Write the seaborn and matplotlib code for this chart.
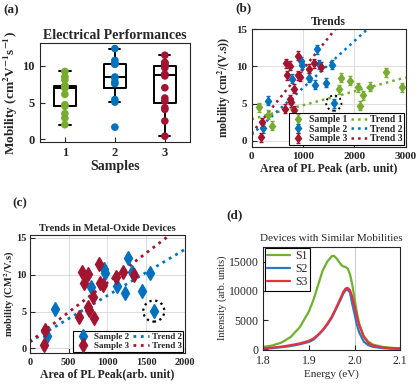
import numpy as np
import pandas as pd
import matplotlib
matplotlib.use('Agg')
import matplotlib.pyplot as plt
import seaborn as sns

# ---------------- data ----------------
GREEN, BLUE, RED = '#77AC30', '#0072BD', '#A2142F'

# area of PL peak / mobility (b) and (c)
s1_area = [143, 326, 392, 980, 1697, 1744, 1907, 2070, 2110, 2168, 2299, 2613, 2927]
s1_mob = [4.5, 3.5, 2.0, 2.9, 6.95, 8.5, 8.07, 7.2, 4.7, 6.1, 7.26, 9.2, 7.2]

s2_area = [224, 327, 791, 955, 972, 1127, 1234, 1264, 1320, 1445, 1557, 1600]
s2_mob = [1.67, 5.4, 8.36, 10.7, 10.2, 8.45, 7.55, 12.3, 10.3, 7.8, 10.2, 5.06]

s3_area = [181, 198, 641, 671, 697, 757, 748, 770, 821, 834, 899, 912, 942, 1113, 1208, 1350]
s3_mob = [0.45, 2.5, 4.3, 10.4, 8.8, 10.1, 5.6, 5.2, 7.0, 4.07, 11.4, 8.8, 8.6, 9.7, 10.4, 9.95]

mob_err = 0.6          # vertical error bar half-height
circled_idx = 11       # sample 2 device circled in (b) and (c)

# trend lines (intercept, slope)
trend_b = {'1': (2.9, 0.00187), '2': (0.8, 0.0063), '3': (1.0, 0.0086)}
trend_c = {'2': (0.9, 0.00625), '3': (0.9, 0.0080)}

# PL spectra (d)
energy = [1.80, 1.82, 1.84, 1.86, 1.88, 1.90, 1.91, 1.92, 1.93, 1.94, 1.95, 1.955,
          1.96, 1.97, 1.975, 1.98, 1.985, 1.99, 1.995, 2.00, 2.005, 2.01, 2.02,
          2.03, 2.04, 2.06, 2.08, 2.10]
spec_s1 = [400, 650, 1150, 2100, 3800, 6500, 8500, 11000, 13500, 15000, 15950, 16000,
           15600, 14500, 14200, 14100, 13800, 12800, 11000, 8600, 6300, 4400, 2300,
           1300, 800, 420, 250, 170]
spec_s2 = [100, 200, 350, 550, 850, 1250, 1650, 2400, 3200, 4200, 5400, 6200,
           7000, 8600, 9500, 10100, 10200, 9700, 7700, 6000, 4200, 2900, 1300,
           700, 420, 200, 100, 60]
spec_s3 = [150, 280, 450, 700, 1000, 1450, 1850, 2500, 3300, 4350, 5600, 6400,
           7200, 8900, 9800, 10400, 10500, 10100, 8900, 7300, 5600, 4100, 2100,
           1100, 650, 300, 170, 120]

# ---------------- style ----------------
sns.set_style('ticks')
plt.rcParams['font.family'] = ['Liberation Serif', 'DejaVu Serif']
plt.rcParams['mathtext.fontset'] = 'stix'
plt.rcParams['xtick.direction'] = 'in'
plt.rcParams['ytick.direction'] = 'in'
plt.rcParams['axes.linewidth'] = 0.8

fig = plt.figure(figsize=(4.2, 3.84), dpi=100)


def bold_ticks(ax, size):
    for lab in ax.get_xticklabels() + ax.get_yticklabels():
        lab.set_fontweight('bold')
        lab.set_fontsize(size)


# ---------------- (a) box plot ----------------
ax = fig.add_axes([0.095, 0.631, 0.357, 0.256])
df_a = pd.DataFrame({
    'sample': ['1'] * len(s1_mob) + ['2'] * len(s2_mob) + ['3'] * len(s3_mob),
    'mobility': s1_mob + s2_mob + s3_mob,
})
sns.stripplot(data=df_a, x='sample', y='mobility', hue='sample',
              palette={'1': GREEN, '2': BLUE, '3': RED}, jitter=False,
              size=5.5, legend=False, ax=ax)
sns.boxplot(data=df_a, x='sample', y='mobility', fill=False, color='k',
            linecolor='k', width=0.45, linewidth=1.4, whis=1.5,
            flierprops=dict(marker='+', markeredgecolor='red', markersize=3),
            ax=ax)
ax.set_xlim(-0.5, 2.5)
ax.set_ylim(-0.3, 13)
ax.set_yticks([0, 5, 10])
ax.set_title('Electrical Performances', fontsize=10, fontweight='bold', pad=3)
ax.set_xlabel('Samples', fontsize=10, fontweight='bold', labelpad=1)
ax.set_ylabel('Mobility (cm$^{\\mathbf{2}}$V$^{\\mathbf{-1}}$s$^{\\mathbf{-1}}$)',
              fontsize=9.5, fontweight='bold', labelpad=2)
bold_ticks(ax, 9)
for s in ax.spines.values():
    s.set_visible(True)

# ---------------- (b) trends ----------------
ax = fig.add_axes([0.599, 0.618, 0.367, 0.306])
handles = []
for area, mob, col, lab in [(s1_area, s1_mob, GREEN, 'Sample 1'),
                            (s2_area, s2_mob, BLUE, 'Sample 2'),
                            (s3_area, s3_mob, RED, 'Sample 3')]:
    h = ax.errorbar(area, mob, yerr=mob_err, fmt='d', color=col, ms=4.5,
                    elinewidth=1, capsize=1.2, label=lab, zorder=3)
    handles.append(h)
xs = np.array([0, 3000])
tl = []
for key, col in [('1', GREEN), ('2', BLUE), ('3', RED)]:
    b0, b1 = trend_b[key]
    sns.lineplot(x=xs, y=b0 + b1 * xs, color=col, linestyle=':', linewidth=1.8,
                 ax=ax, zorder=2)
    tl.append(ax.lines[-1])
ax.scatter([s2_area[circled_idx]], [s2_mob[circled_idx]], s=120, facecolors='none',
           edgecolors='k', linestyles=':', linewidths=1.4, zorder=4)
ax.set_xlim(0, 3000)
ax.set_ylim(-0.8, 15)
ax.set_xticks([0, 1000, 2000, 3000])
ax.set_yticks([0, 5, 10, 15])
ax.grid(True, color='#dddddd', linewidth=0.7)
ax.set_title('Trends', fontsize=8.5, fontweight='bold', pad=3)
ax.set_xlabel('Area of PL Peak (arb. unit)', fontsize=8.5, fontweight='bold', labelpad=1)
ax.set_ylabel('mobility (cm$^{\\mathbf{2}}$/(V.s))', fontsize=8.5, fontweight='bold', labelpad=2)
bold_ticks(ax, 8)
leg = ax.legend(handles + tl, ['Sample 1', 'Sample 2', 'Sample 3',
                               'Trend 1', 'Trend 2', 'Trend 3'],
                ncol=2, loc='lower right', fancybox=False, framealpha=1,
                edgecolor='k', borderpad=0.2, labelspacing=0.05,
                handlelength=1.6, handletextpad=0.3, columnspacing=0.4,
                borderaxespad=0.15, prop={'weight': 'bold', 'size': 7})
leg.get_frame().set_linewidth(0.8)

# ---------------- (c) metal-oxide devices ----------------
ax = fig.add_axes([0.071, 0.081, 0.369, 0.307])
handles = []
for area, mob, col, lab in [(s2_area, s2_mob, BLUE, 'Sample 2'),
                            (s3_area, s3_mob, RED, 'Sample 3')]:
    h = ax.errorbar(area, mob, yerr=mob_err * 0.5, fmt='d', color=col, ms=7,
                    elinewidth=1, capsize=1, label=lab, zorder=3)
    handles.append(h)
xs = np.array([0, 2000])
tl = []
for key, col in [('2', BLUE), ('3', RED)]:
    b0, b1 = trend_c[key]
    sns.lineplot(x=xs, y=b0 + b1 * xs, color=col, linestyle=':', linewidth=2,
                 ax=ax, zorder=2)
    tl.append(ax.lines[-1])
ax.scatter([s2_area[circled_idx]], [s2_mob[circled_idx]], s=230, facecolors='none',
           edgecolors='k', linestyles=':', linewidths=1.6, zorder=4)
ax.set_xlim(0, 2000)
ax.set_ylim(-0.6, 15.35)
ax.set_xticks([0, 500, 1000, 1500, 2000])
ax.set_yticks([0, 5, 10, 15])
ax.grid(True, color='#dddddd', linewidth=0.7)
ax.set_title('Trends in Metal-Oxide Devices', fontsize=7.5, fontweight='bold', pad=3)
ax.set_xlabel('Area of PL Peak(arb. unit)', fontsize=8.5, fontweight='bold', labelpad=1)
ax.set_ylabel('mobility (CM$^{\\mathbf{2}}$/V.s)', fontsize=7.5, fontweight='bold', labelpad=0)
bold_ticks(ax, 7.5)
ax.tick_params(axis='y', pad=2)
leg = ax.legend(handles + tl, ['Sample 2', 'Sample 3', 'Trend 2', 'Trend 3'],
                ncol=2, loc='lower right', fancybox=False, framealpha=1,
                edgecolor='k', borderpad=0.2, labelspacing=0.05,
                handlelength=1.8, handletextpad=0.3, columnspacing=0.4,
                borderaxespad=0.15, prop={'weight': 'bold', 'size': 6.5})
leg.get_frame().set_linewidth(0.8)

# ---------------- (d) PL spectra ----------------
ax = fig.add_axes([0.627, 0.089, 0.326, 0.269])
df_d = pd.DataFrame({
    'energy': energy * 3,
    'intensity': spec_s1 + spec_s2 + spec_s3,
    'sample': ['S1'] * len(energy) + ['S2'] * len(energy) + ['S3'] * len(energy),
})
ax.axvline(2.0, color='#cccccc', linewidth=0.8, zorder=0)
sns.lineplot(data=df_d, x='energy', y='intensity', hue='sample',
             palette={'S1': '#6fb02f', 'S2': '#2a78c0', 'S3': '#e8303a'},
             linewidth=1.6, ax=ax)
ax.set_xlim(1.8, 2.1)
ax.set_ylim(-100, 17600)
ax.set_xticks([1.8, 1.9, 2.0, 2.1])
ax.set_yticks([0, 5000, 10000, 15000])
ax.tick_params(labelsize=8.5)
ax.set_title('Devices with Similar Mobilities', fontsize=8, pad=4)
ax.set_xlabel('Energy (eV)', fontsize=8, labelpad=2)
ax.set_ylabel('Intensity (arb. units)', fontsize=7.5, labelpad=1)
leg = ax.legend(loc='upper left', fancybox=False, framealpha=1, edgecolor='k',
                fontsize=8.5, borderpad=0.2, labelspacing=0.1, handlelength=2.0,
                handletextpad=0.4, borderaxespad=0.1, title=None)
leg.get_frame().set_linewidth(0.8)

# ---------------- panel letters ----------------
for lab, x, y in [('(a)', 0.008, 0.99), ('(b)', 0.56, 0.995),
                  ('(c)', 0.03, 0.485), ('(d)', 0.54, 0.455)]:
    fig.text(x, y, lab, fontsize=9.5, fontweight='bold', ha='left', va='top')

fig.savefig('out.png', dpi=100)
